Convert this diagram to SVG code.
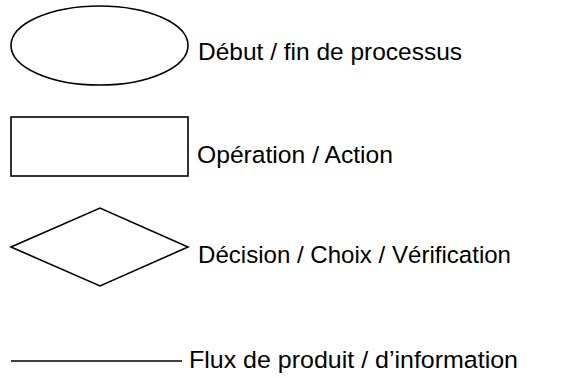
<svg xmlns="http://www.w3.org/2000/svg" width="566" height="378" viewBox="0 0 566 378">
<style>
.s{fill:#fff;stroke:#000;stroke-width:1.6}
.t{font-family:"Liberation Sans",Arial,sans-serif;font-size:24.5px;fill:#000}
</style>
<rect width="566" height="378" fill="#fff"/>
<g id="n-debut"><ellipse class="s" cx="99.5" cy="45.5" rx="88.5" ry="39.5"/><text class="t" x="198" y="60" textLength="264" lengthAdjust="spacingAndGlyphs">Début / fin de processus</text></g>
<g id="n-operation"><rect class="s" x="11" y="117" width="177" height="59" stroke-width="2"/><text class="t" x="197" y="163" textLength="196" lengthAdjust="spacingAndGlyphs">Opération / Action</text></g>
<g id="n-decision"><polygon class="s" points="11,247 100,208 188,247 100,286"/><text class="t" x="198" y="263" textLength="313" lengthAdjust="spacingAndGlyphs">Décision / Choix / Vérification</text></g>
<g id="connectors"><line x1="11" y1="361" x2="182" y2="361" stroke="#000" stroke-width="1.6"/></g>
<g id="n-flux"><text class="t" x="189" y="368" textLength="329" lengthAdjust="spacingAndGlyphs">Flux de produit / d’information</text></g>
</svg>
